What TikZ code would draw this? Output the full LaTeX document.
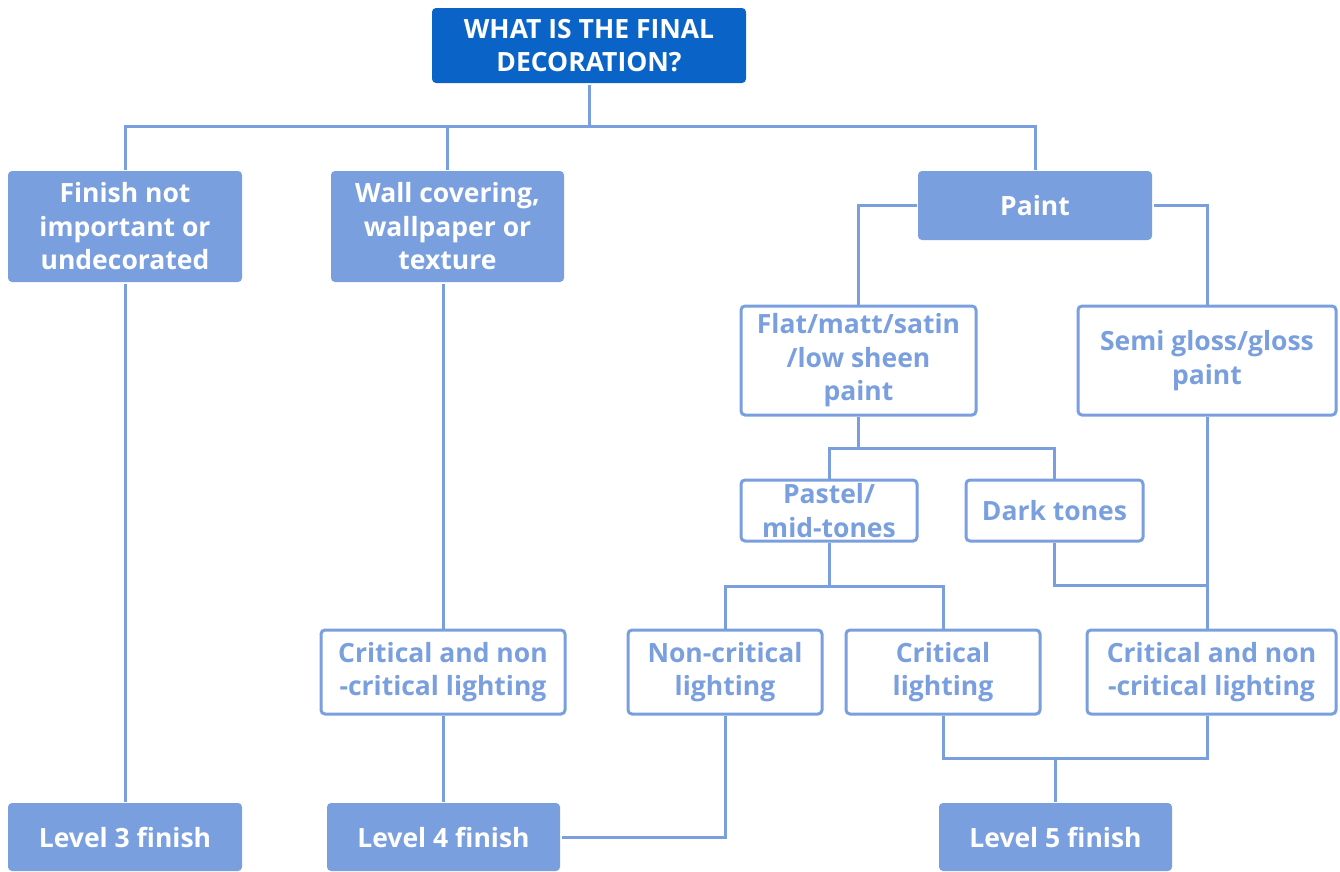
\documentclass[tikz,border=0pt]{standalone}
\usepackage{fontspec}
\setmainfont{Open Sans}
\usepackage{tikz}
\usetikzlibrary{calc}

\definecolor{deepblue}{HTML}{0A64C8}
\definecolor{softblue}{HTML}{7A9FDF}

\tikzset{
  basebox/.style={rectangle, rounded corners=4pt, inner sep=0pt, align=center,
    font=\fontsize{26.5}{33.5}\selectfont\bfseries, line width=3pt},
  topbox/.style={basebox, fill=deepblue, text=white},
  solidbox/.style={basebox, fill=softblue, text=white},
  linebox/.style={basebox, draw=softblue, fill=white, text=softblue},
  link/.style={draw=softblue, line width=3pt}
}

\begin{document}
\begin{tikzpicture}[x=1pt, y=-1pt]
  \useasboundingbox (0,0) rectangle (1340,871);

  % question
  \node[topbox, minimum width=314pt, minimum height=75pt] (top) at (589,45.5) {WHAT IS THE FINAL\\DECORATION?};

  % first choice
  \node[solidbox, minimum width=234pt, minimum height=111pt] (fin) at (125,226.5) {Finish not\\important or\\undecorated};
  \node[solidbox, minimum width=233pt, minimum height=111pt] (wall) at (447.5,226.5) {Wall covering,\\wallpaper or\\texture};
  \node[solidbox, minimum width=234pt, minimum height=69pt] (paint) at (1035,205.5) {Paint};

  % paint types
  \node[linebox, minimum width=235pt, minimum height=109pt] (flat) at (858.5,360.5) {Flat/matt/satin\\/low sheen\\paint};
  \node[linebox, minimum width=258pt, minimum height=109pt] (semi) at (1207,360.5) {Semi gloss/gloss\\paint};
  \node[linebox, minimum width=176pt, minimum height=61pt] (pastel) at (829,510.5) {Pastel/\\mid-tones};
  \node[linebox, minimum width=177pt, minimum height=61pt] (dark) at (1054.5,510.5) {Dark tones};

  % lighting
  \node[linebox, minimum width=244pt, minimum height=84pt] (crit4) at (443,672) {Critical and non\\-critical lighting};
  \node[linebox, minimum width=194pt, minimum height=84pt] (noncrit) at (725,672) {Non-critical\\lighting};
  \node[linebox, minimum width=194pt, minimum height=84pt] (crit) at (943,672) {Critical\\lighting};
  \node[linebox, minimum width=249pt, minimum height=84pt] (crit5) at (1211.5,672) {Critical and non\\-critical lighting};

  % results
  \node[solidbox, minimum width=234pt, minimum height=68pt] (lvl3) at (125,837) {Level 3 finish};
  \node[solidbox, minimum width=233pt, minimum height=68pt] (lvl4) at (443.5,837) {Level 4 finish};
  \node[solidbox, minimum width=233pt, minimum height=68pt] (lvl5) at (1055.5,837) {Level 5 finish};

  % junctions
  \coordinate (j1) at (589,126);
  \coordinate (j2) at (858.5,448);
  \coordinate (j3) at (829,586);
  \coordinate (j4) at (1207,585);
  \coordinate (j5) at (1055.5,758);

  % connectors
  \draw[link] (top.south) -- (j1);
  \draw[link] (fin.north) |- (j1) -| (paint.north);
  \draw[link] (wall.north) -- (wall.north |- j1);
  \draw[link] (paint.west) -| (flat.north);
  \draw[link] (paint.east) -| (semi.north);
  \draw[link] (flat.south) -- (j2);
  \draw[link] (pastel.north) |- (j2) -| (dark.north);
  \draw[link] (pastel.south) -- (j3);
  \draw[link] (noncrit.north) |- (j3) -| (crit.north);
  \draw[link] (dark.south) |- (j4);
  \draw[link] (semi.south) -- (semi.south |- crit5.north);
  \draw[link] (crit4.north |- wall.south) -- (crit4.north);
  \draw[link] (crit4.south) -- (crit4.south |- lvl4.north);
  \draw[link] (fin.south) -- (lvl3.north);
  \draw[link] (noncrit.south) |- (lvl4.east);
  \draw[link] (crit.south) |- (semi.south |- j5) -- (semi.south |- crit5.south);
  \draw[link] (j5) -- (lvl5.north);
\end{tikzpicture}
\end{document}
